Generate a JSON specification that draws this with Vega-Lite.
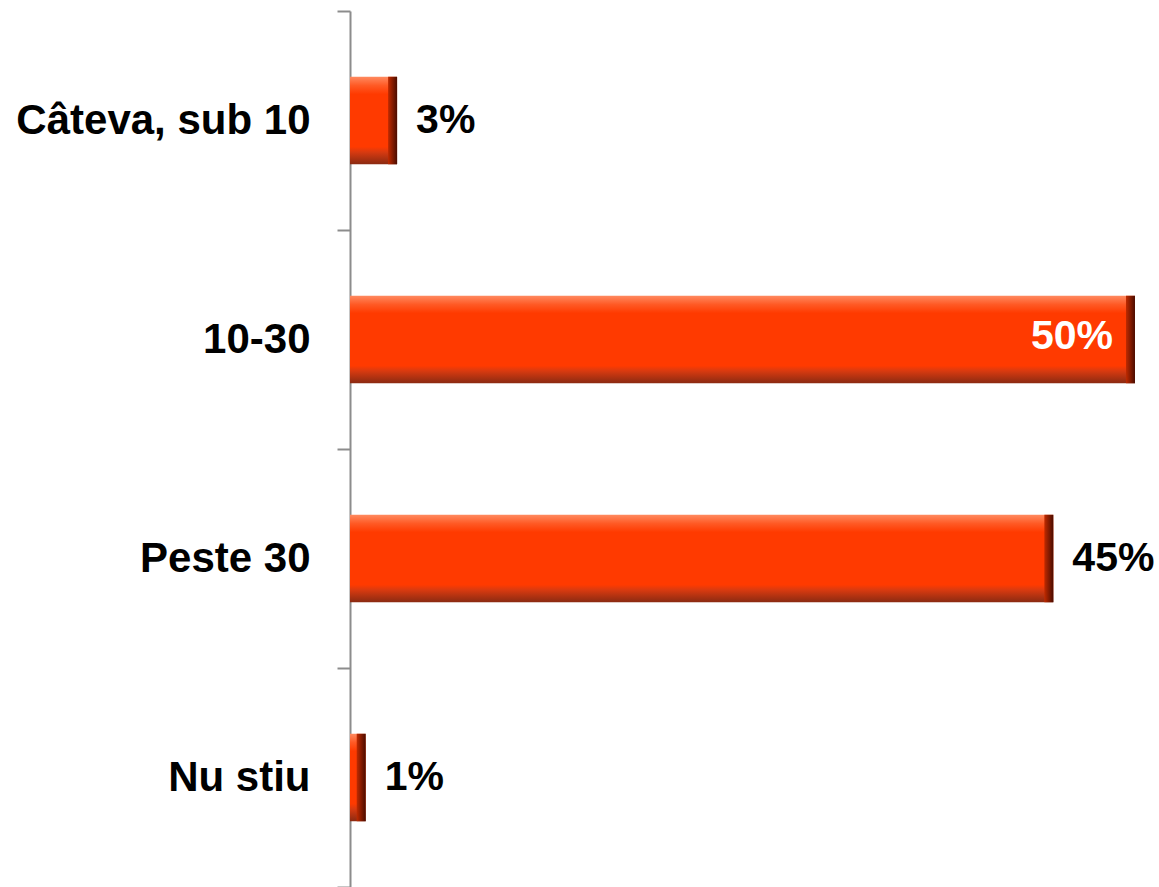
{
  "$schema": "https://vega.github.io/schema/vega-lite/v6.json",
  "width": 809,
  "height": 876,
  "autosize": {"type": "none"},
  "padding": {"left": 350, "top": 11, "right": 0, "bottom": 0},
  "background": "white",
  "config": {"view": {"stroke": null}},
  "data": {
    "values": [
      {"category": "Câteva, sub 10", "pct": 0.03},
      {"category": "10-30", "pct": 0.5},
      {"category": "Peste 30", "pct": 0.448},
      {"category": "Nu stiu", "pct": 0.01}
    ]
  },
  "encoding": {
    "y": {
      "field": "category",
      "type": "nominal",
      "sort": ["Câteva, sub 10", "10-30", "Peste 30", "Nu stiu"],
      "scale": {"paddingInner": 0, "paddingOuter": 0},
      "axis": {
        "title": null,
        "tickBand": "extent",
        "tickSize": 13,
        "tickWidth": 2,
        "tickColor": "#8c8c8c",
        "domainColor": "#8c8c8c",
        "domainWidth": 2,
        "labelFont": "Liberation Sans",
        "labelFontWeight": "bold",
        "labelFontSize": 42,
        "labelColor": "#000000",
        "labelPadding": 27,
        "labelLimit": 400
      }
    },
    "x": {
      "field": "pct",
      "type": "quantitative",
      "scale": {"domain": [0, 0.5153], "nice": false, "zero": true},
      "axis": null
    }
  },
  "layer": [
    {
      "mark": {
        "type": "bar",
        "height": {"band": 0.4},
        "color": {
          "gradient": "linear",
          "x1": 0, "y1": 0, "x2": 0, "y2": 1,
          "stops": [
            {"offset": 0, "color": "#ff8a60"},
            {"offset": 0.1, "color": "#ff5a25"},
            {"offset": 0.2, "color": "#ff3a00"},
            {"offset": 0.8, "color": "#ff3a00"},
            {"offset": 0.86, "color": "#d83a10"},
            {"offset": 1, "color": "#8a2a12"}
          ]
        }
      }
    },
    {
      "mark": {
        "type": "tick",
        "orient": "vertical",
        "thickness": 9,
        "size": 87.6,
        "xOffset": -4.5,
        "color": {
          "gradient": "linear",
          "x1": 0, "y1": 0, "x2": 1, "y2": 0,
          "stops": [
            {"offset": 0, "color": "#c02a00"},
            {"offset": 1, "color": "#4a0c00"}
          ]
        },
        "opacity": 1
      }
    },
    {
      "transform": [{"filter": "datum.pct < 0.48"}],
      "mark": {
        "type": "text",
        "align": "left",
        "baseline": "middle",
        "dx": 19,
        "font": "Liberation Sans",
        "fontWeight": "bold",
        "fontSize": 41,
        "color": "#000000"
      },
      "encoding": {"text": {"field": "pct", "type": "quantitative", "format": ".0%"}}
    },
    {
      "transform": [{"filter": "datum.pct >= 0.48"}],
      "mark": {
        "type": "text",
        "align": "right",
        "baseline": "middle",
        "dx": -22,
        "dy": -3,
        "font": "Liberation Sans",
        "fontWeight": "bold",
        "fontSize": 41,
        "color": "#ffffff"
      },
      "encoding": {"text": {"field": "pct", "type": "quantitative", "format": ".0%"}}
    }
  ]
}
